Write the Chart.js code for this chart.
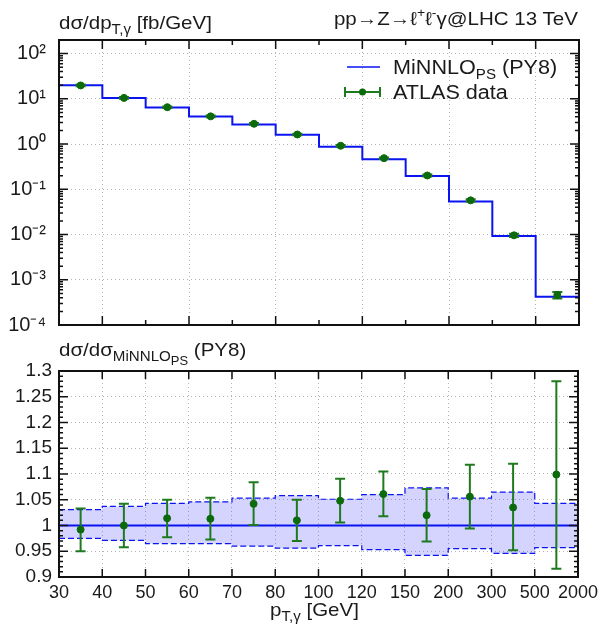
<!doctype html>
<html lang="en">
<head>
<meta charset="utf-8">
<title>pT gamma</title>
<script src="https://cdn.jsdelivr.net/npm/chart.js@4.4.1/dist/chart.umd.min.js"></script>
<style>
  body { margin: 0; background: #fff; }
  #wrap { position: relative; width: 603px; height: 631px; font-family: "Liberation Sans", Arial, sans-serif; color: #1a1a1a; }
  #wrap canvas { position: absolute; left: 0; }
  .lbl { position: absolute; font-size: 19px; white-space: nowrap; line-height: 20px; transform-origin: left top; transform: scaleX(1.08); }
  .lbl sub { font-size: 14px; vertical-align: -5px; line-height: 0; }
  .lbl sub sub { font-size: 12px; vertical-align: -4px; }
  .lbl sup { font-size: 13px; vertical-align: 8px; line-height: 0; }
</style>
<script>
// bins in p_T,gamma [GeV]; x axis uses equal width per bin
const edges = ['30', '40', '50', '60', '70', '80', '100', '120', '150', '200', '300', '500', '2000'];

// upper panel: dsigma/dpT [fb/GeV]
const minnlo = [20.0, 10.5, 6.45, 4.05, 2.70, 1.61, 0.875, 0.46, 0.198, 0.054, 0.0093, 0.00042];
const atlas = [19.8, 10.5, 6.54, 4.10, 2.81, 1.63, 0.917, 0.488, 0.202, 0.057, 0.0096, 0.00046];
const atlasLo = [19.0, 10.06, 6.30, 3.94, 2.70, 1.56, 0.880, 0.468, 0.192, 0.0537, 0.00885, 0.000385];
const atlasHi = [20.7, 10.94, 6.77, 4.27, 2.93, 1.69, 0.955, 0.508, 0.212, 0.0604, 0.0104, 0.000538];

// lower panel: ratio to MiNNLO_PS (PY8)
const bandLo = [0.975, 0.971, 0.965, 0.965, 0.960, 0.956, 0.961, 0.953, 0.942, 0.955, 0.946, 0.957];
const bandHi = [1.031, 1.037, 1.043, 1.046, 1.053, 1.058, 1.051, 1.060, 1.073, 1.053, 1.065, 1.043];
const central = [1, 1, 1, 1, 1, 1, 1, 1, 1, 1, 1, 1];
const ratio = [0.992, 1.000, 1.014, 1.013, 1.042, 1.010, 1.048, 1.061, 1.020, 1.056, 1.035, 1.099];
const ratioLo = [0.950, 0.958, 0.977, 0.973, 1.001, 0.970, 1.006, 1.018, 0.969, 0.994, 0.952, 0.916];
const ratioHi = [1.033, 1.042, 1.050, 1.054, 1.084, 1.050, 1.091, 1.105, 1.071, 1.118, 1.120, 1.280];

const logTicks = [1e-4, 1e-3, 1e-2, 1e-1, 1, 10, 100];
const logLabels = ['10⁻⁴', '10⁻³', '10⁻²', '10⁻¹', '10⁰', '10¹', '10²'];
const ratioTicks = [0.9, 0.95, 1, 1.05, 1.1, 1.15, 1.2, 1.25, 1.3];

const BLUE = '#0a14f0';
const GREEN = '#0b6a0b';

// histogram steps: one point per bin start plus the closing edge
const steps = vals => vals.map((v, i) => ({x: i, y: v})).concat([{x: vals.length, y: vals[vals.length - 1]}]);
const centres = vals => vals.map((v, i) => ({x: i + 0.5, y: v}));

// error bars drawn right before the points of a dataset
const errorBars = {
  id: 'errorBars',
  beforeDatasetDraw(chart, args) {
    const ds = chart.data.datasets[args.index];
    if (!ds.errLo) return;
    const ctx = chart.ctx, y = chart.scales.y, a = chart.chartArea;
    ctx.save();
    ctx.beginPath();
    ctx.rect(a.left, a.top, a.width, a.height);
    ctx.clip();
    ctx.strokeStyle = '#1f7a1f';
    ctx.lineWidth = 2;
    args.meta.data.forEach((pt, i) => {
      const y1 = y.getPixelForValue(ds.errLo[i]), y2 = y.getPixelForValue(ds.errHi[i]);
      ctx.beginPath();
      ctx.moveTo(pt.x, y1); ctx.lineTo(pt.x, y2);
      ctx.moveTo(pt.x - 5, y1); ctx.lineTo(pt.x + 5, y1);
      ctx.moveTo(pt.x - 5, y2); ctx.lineTo(pt.x + 5, y2);
      ctx.stroke();
    });
    ctx.restore();
  }
};

// frame with inward ticks like gnuplot
const frame = {
  id: 'frame',
  afterDraw(chart, args, opts) {
    const ctx = chart.ctx, a = chart.chartArea, x = chart.scales.x, y = chart.scales.y;
    const seg = (x1, y1, x2, y2) => { ctx.moveTo(x1, y1); ctx.lineTo(x2, y2); };
    ctx.save();
    ctx.strokeStyle = '#111';
    ctx.lineWidth = 1.5;
    ctx.beginPath();
    for (let i = 0; i <= edges.length - 1; i++) {
      const px = x.getPixelForValue(i);
      const len = opts.altX ? (i % 2 ? 9 : 5) : 8;
      seg(px, a.bottom, px, a.bottom - len);
      seg(px, a.top, px, a.top + len);
    }
    opts.major.forEach(v => {
      const py = y.getPixelForValue(v);
      seg(a.left, py, a.left + 9, py);
      seg(a.right, py, a.right - 9, py);
    });
    opts.minor.forEach(v => {
      const py = y.getPixelForValue(v);
      seg(a.left, py, a.left + 4, py);
      seg(a.right, py, a.right - 4, py);
    });
    ctx.stroke();
    ctx.lineWidth = 2;
    ctx.strokeRect(a.left, a.top, a.width, a.height);
    if (opts.legend) {
      ctx.strokeStyle = BLUE;
      ctx.lineWidth = 1.5;
      ctx.beginPath(); seg(347, 67, 380, 67); ctx.stroke();
      ctx.strokeStyle = '#1f7a1f';
      ctx.lineWidth = 2;
      ctx.beginPath();
      seg(345, 92, 380, 92); seg(345, 87, 345, 97); seg(380, 87, 380, 97);
      ctx.stroke();
      ctx.fillStyle = GREEN;
      ctx.beginPath(); ctx.arc(362.5, 92, 3.5, 0, 2 * Math.PI); ctx.fill();
    }
    ctx.restore();
  }
};

const gridStyle = {color: '#b5b5b5', lineWidth: 1};

const init = () => {
  Chart.defaults.font.family = '"Liberation Sans", Arial, sans-serif';
  Chart.defaults.color = '#1a1a1a';
  Chart.defaults.animation = false;

  const minorLog = [];
  logTicks.slice(0, -1).forEach(d => { for (let k = 2; k <= 9; k++) minorLog.push(d * k); });
  minorLog.push(200);
  const minorRatio = [];
  for (let k = 90; k <= 130; k++) if (k % 5) minorRatio.push(k / 100);

  const xTicks = s => { s.ticks = edges.map((e, i) => ({value: i})); };

  new Chart(document.getElementById('top'), {
    type: 'line',
    data: {
      datasets: [
        {data: centres(atlas), errLo: atlasLo, errHi: atlasHi, showLine: false, pointRadius: 3.5,
         pointBackgroundColor: GREEN, pointBorderColor: GREEN, order: 0},
        {data: steps(minnlo), stepped: 'before', borderColor: BLUE, borderWidth: 2, pointRadius: 0, order: 1}
      ]
    },
    options: {
      responsive: false,
      events: [],
      layout: {padding: {top: 40, right: 24, bottom: 10.5, left: 0}},
      plugins: {legend: {display: false}, tooltip: {enabled: false},
                frame: {altX: true, major: logTicks, minor: minorLog, legend: true}},
      scales: {
        x: {type: 'linear', min: 0, max: 12, afterBuildTicks: xTicks,
            afterFit: s => { s.height = 0; },
            ticks: {display: false},
            grid: {drawTicks: false, lineWidth: 1,
                   color: c => (c.tick.value % 2 === 1 ? '#b5b5b5' : 'rgba(0,0,0,0)')},
            border: {display: false, dash: [1, 3]}},
        y: {type: 'logarithmic', min: 1e-4, max: 200,
            afterBuildTicks: s => { s.ticks = logTicks.map(v => ({value: v})); },
            afterFit: s => { s.width = 59; },
            ticks: {font: {size: 20}, padding: 13, autoSkip: false,
                    callback: v => logLabels[logTicks.findIndex(t => Math.abs(t - v) / t < 1e-6)] || ''},
            grid: Object.assign({drawTicks: false}, gridStyle),
            border: {display: false, dash: [1, 3]}}
      }
    },
    plugins: [errorBars, frame]
  });

  new Chart(document.getElementById('bottom'), {
    type: 'line',
    data: {
      datasets: [
        {data: centres(ratio), errLo: ratioLo, errHi: ratioHi, showLine: false, pointRadius: 3.5,
         pointBackgroundColor: GREEN, pointBorderColor: GREEN, order: 0},
        {data: steps(central), stepped: 'before', borderColor: BLUE, borderWidth: 2, pointRadius: 0, order: 1},
        {data: steps(bandLo), stepped: 'before', borderColor: BLUE, borderWidth: 1.2, borderDash: [6, 3],
         pointRadius: 0, fill: false, order: 2},
        {data: steps(bandHi), stepped: 'before', borderColor: BLUE, borderWidth: 1.2, borderDash: [6, 3],
         pointRadius: 0, fill: '-1', backgroundColor: 'rgba(40,40,255,0.2)', order: 2}
      ]
    },
    options: {
      responsive: false,
      events: [],
      layout: {padding: {top: 21, right: 24, bottom: 24, left: 0}},
      plugins: {legend: {display: false}, tooltip: {enabled: false},
                frame: {altX: false, major: ratioTicks, minor: minorRatio}},
      scales: {
        x: {type: 'linear', min: 0, max: 12, afterBuildTicks: xTicks,
            afterFit: s => { s.height = 30; },
            ticks: {font: {size: 18}, padding: 5, maxRotation: 0, autoSkip: false,
                    callback: v => edges[v]},
            grid: Object.assign({drawTicks: false}, gridStyle),
            border: {display: false, dash: [1, 3]}},
        y: {type: 'linear', min: 0.9, max: 1.3,
            afterBuildTicks: s => { s.ticks = ratioTicks.map(v => ({value: v})); },
            afterFit: s => { s.width = 59; },
            ticks: {font: {size: 19}, padding: 7, autoSkip: false, callback: v => String(+v.toFixed(2))},
            grid: Object.assign({drawTicks: false}, gridStyle),
            border: {display: false, dash: [1, 3]}}
      }
    },
    plugins: [errorBars, frame]
  });
};
window.onload = init;
</script>
</head>
<body>
<div id="wrap">
  <canvas id="top" width="603" height="350" style="top:0"></canvas>
  <canvas id="bottom" width="603" height="281" style="top:350px"></canvas>
  <div class="lbl" style="left:59px; top:13px;">dσ/dp<sub>T,γ</sub> [fb/GeV]</div>
  <div class="lbl" style="right:25px; top:9px; transform-origin: right top;">pp→Z→ℓ<sup>+</sup>ℓ<sup>-</sup>γ@LHC 13 TeV</div>
  <div class="lbl" style="left:393px; top:57px; font-size:20px;">MiNNLO<sub>PS</sub> (PY8)</div>
  <div class="lbl" style="left:393px; top:82px; font-size:20px;">ATLAS data</div>
  <div class="lbl" style="left:59px; top:340px;">dσ/dσ<sub>MiNNLO<sub>PS</sub></sub> (PY8)</div>
  <div class="lbl" style="left:270px; top:600px;">p<sub>T,γ</sub> [GeV]</div>
</div>
</body>
</html>
